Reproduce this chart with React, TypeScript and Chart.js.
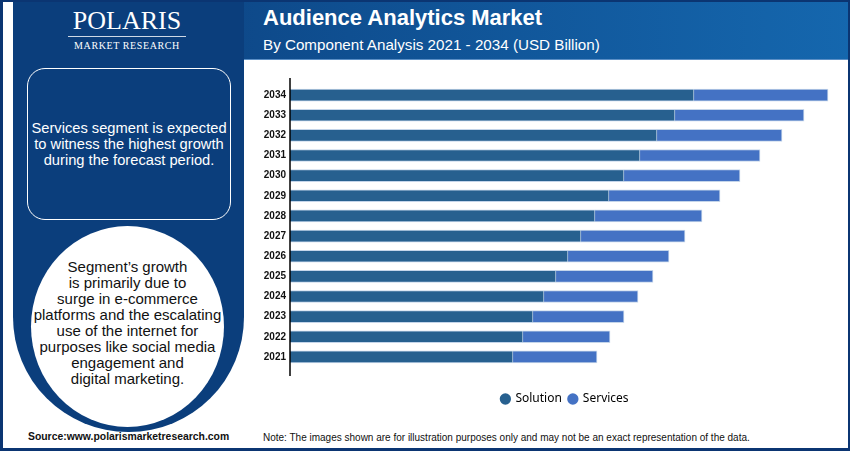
import { useEffect, useRef } from "react";
import { Chart, registerables } from "chart.js";

Chart.register(...registerables);

// Years, bottom (2021) to top (2034)
const years = ["2021", "2022", "2023", "2024", "2025", "2026", "2027", "2028", "2029", "2030", "2031", "2032", "2033", "2034"];
// USD Billion
const solution = [2.23, 2.33, 2.43, 2.54, 2.66, 2.78, 2.91, 3.05, 3.19, 3.34, 3.5, 3.67, 3.85, 4.04];
const services = [0.84, 0.87, 0.91, 0.94, 0.97, 1.01, 1.04, 1.07, 1.11, 1.16, 1.2, 1.25, 1.29, 1.34];

const SOLUTION_COLOR = "#27608f";
const SERVICES_COLOR = "#4472c4";
const FONT = "'Liberation Sans', Arial, sans-serif";

// draws the y axis line a bit past the bars, like the original
const axisLine = {
  id: "axisLine",
  afterDraw(chart: Chart) {
    const { ctx, chartArea } = chart;
    ctx.save();
    ctx.strokeStyle = "#000";
    ctx.lineWidth = 1.5;
    ctx.beginPath();
    ctx.moveTo(chartArea.left, chartArea.top - 7);
    ctx.lineTo(chartArea.left, chartArea.bottom + 9);
    ctx.stroke();
    ctx.restore();
  },
};

function BarChart() {
  const chartRef = useRef<HTMLCanvasElement>(null);
  const chartInstance = useRef<Chart | null>(null);

  useEffect(() => {
    if (!chartRef.current) return;
    if (chartInstance.current) chartInstance.current.destroy();

    chartInstance.current = new Chart(chartRef.current, {
      type: "bar",
      data: {
        labels: years,
        datasets: [
          {
            label: "Solution",
            data: solution,
            backgroundColor: SOLUTION_COLOR,
            borderColor: "rgba(190,208,232,0.9)",
            borderWidth: 1,
            barThickness: 12,
          },
          {
            label: "Services",
            data: services,
            backgroundColor: SERVICES_COLOR,
            borderColor: "rgba(190,208,232,0.9)",
            borderWidth: 1,
            barThickness: 12,
          },
        ],
      },
      options: {
        indexAxis: "y",
        animation: false,
        responsive: false,
        maintainAspectRatio: false,
        layout: { padding: { top: 25, right: 7, bottom: 13, left: 0 } },
        scales: {
          x: {
            stacked: true,
            min: 0,
            max: 5.5,
            ticks: { display: false },
            grid: { display: false },
            border: { display: false },
            afterFit: (scale) => {
              scale.height = 19;
            },
          },
          y: {
            stacked: true,
            reverse: true,
            grid: { display: false, drawTicks: false },
            border: { display: false },
            ticks: {
              color: "#111",
              padding: 4,
              font: { family: FONT, size: 10, weight: "bold" },
            },
            afterFit: (scale) => {
              scale.width = 46;
            },
          },
        },
        plugins: {
          tooltip: { enabled: false },
          legend: {
            position: "bottom",
            fullSize: false,
            labels: {
              usePointStyle: true,
              pointStyle: "circle",
              boxWidth: 8,
              boxHeight: 8,
              padding: 7,
              color: "#111",
              font: { family: "'Noto Sans', 'Open Sans', sans-serif", size: 12 },
              generateLabels: (chart) =>
                chart.data.datasets.map((ds, i) => ({
                  text: ds.label as string,
                  fillStyle: ds.backgroundColor as string,
                  strokeStyle: ds.backgroundColor as string,
                  lineWidth: 0,
                  pointStyle: "circle",
                  datasetIndex: i,
                  hidden: false,
                })),
            },
          },
        },
      },
      plugins: [axisLine],
    });

    return () => {
      if (chartInstance.current) {
        chartInstance.current.destroy();
        chartInstance.current = null;
      }
    };
  }, []);

  return <canvas ref={chartRef} width={603} height={368} style={{ width: 603, height: 368 }} />;
}

export default function App() {
  return (
    <div
      style={{
        position: "absolute",
        left: 0,
        top: 0,
        width: 850,
        height: 451,
        boxSizing: "border-box",
        background: "#fff",
        border: "2px solid #0b3572",
        borderLeftWidth: 3,
        borderBottomWidth: 3,
        overflow: "hidden",
        fontFamily: FONT,
      }}
    >
      {/* header band */}
      <div
        style={{
          position: "absolute",
          left: 10,
          top: 0,
          width: 840,
          height: 57,
          background: "linear-gradient(90deg, #0b3d7b 0%, #0f4f91 40%, #1567ae 100%)",
          borderBottom: "1px solid #5b8fc6",
        }}
      />
      {/* left panel, U shaped */}
      <div
        style={{
          position: "absolute",
          left: 10,
          top: 0,
          width: 231,
          height: 430,
          background: "#0b3e7c",
          borderBottomLeftRadius: 115,
          borderBottomRightRadius: 115,
        }}
      />
      {/* logo */}
      <div style={{ position: "absolute", left: 68, top: 4, width: 112, textAlign: "center", color: "#fff" }}>
        <div style={{ fontFamily: "'Liberation Serif', 'DejaVu Serif', serif", fontSize: 26, lineHeight: "30px", letterSpacing: 0 }}>
          POLARIS
        </div>
        <div style={{ height: 1, background: "rgba(255,255,255,0.8)", margin: "0 -3px 3px" }} />
        <div style={{ fontFamily: "'Liberation Serif', 'DejaVu Serif', serif", fontSize: 10, lineHeight: "11px", letterSpacing: 0.6 }}>
          MARKET RESEARCH
        </div>
      </div>
      {/* title */}
      <div style={{ position: "absolute", left: 260, top: 3, color: "#fff", fontSize: 22, fontWeight: "bold", lineHeight: "26px" }}>
        Audience Analytics Market
      </div>
      <div style={{ position: "absolute", left: 260, top: 34, color: "#fff", fontSize: 15.2, lineHeight: "18px" }}>
        By Component Analysis 2021 - 2034 (USD Billion)
      </div>
      {/* chart area */}
      <div style={{ position: "absolute", left: 241, top: 58, width: 604, height: 368, background: "#fff" }}>
        <BarChart />
      </div>
      {/* rounded box */}
      <div
        style={{
          position: "absolute",
          left: 24,
          top: 66,
          width: 202,
          height: 150,
          border: "1.5px solid #fff",
          borderRadius: 18,
          color: "#fff",
          fontSize: 14.7,
          lineHeight: "16px",
          textAlign: "center",
          display: "flex",
          alignItems: "center",
          justifyContent: "center",
        }}
      >
        <div>
          Services segment is expected
          <br />
          to witness the highest growth
          <br />
          during the forecast period.
        </div>
      </div>
      {/* white circle */}
      <div
        style={{
          position: "absolute",
          left: 28,
          top: 224,
          width: 193,
          height: 201,
          borderRadius: "50%",
          background: "#fff",
          color: "#111",
          fontSize: 15,
          lineHeight: "16px",
          textAlign: "center",
          display: "flex",
          alignItems: "center",
          justifyContent: "center",
        }}
      >
        <div style={{ whiteSpace: "nowrap", marginTop: -7 }}>
          Segment’s growth
          <br />
          is primarily due to
          <br />
          surge in e-commerce
          <br />
          platforms and the escalating
          <br />
          use of the internet for
          <br />
          purposes like social media
          <br />
          engagement and
          <br />
          digital marketing.
        </div>
      </div>
      {/* footer */}
      <div style={{ position: "absolute", left: 25, top: 429, fontSize: 10.4, fontWeight: "bold", color: "#111", lineHeight: "12px" }}>
        Source:www.polarismarketresearch.com
      </div>
      <div style={{ position: "absolute", left: 260, top: 430, fontSize: 10, color: "#111", lineHeight: "11px" }}>
        Note: The images shown are for illustration purposes only and may not be an exact representation of the data.
      </div>
    </div>
  );
}
